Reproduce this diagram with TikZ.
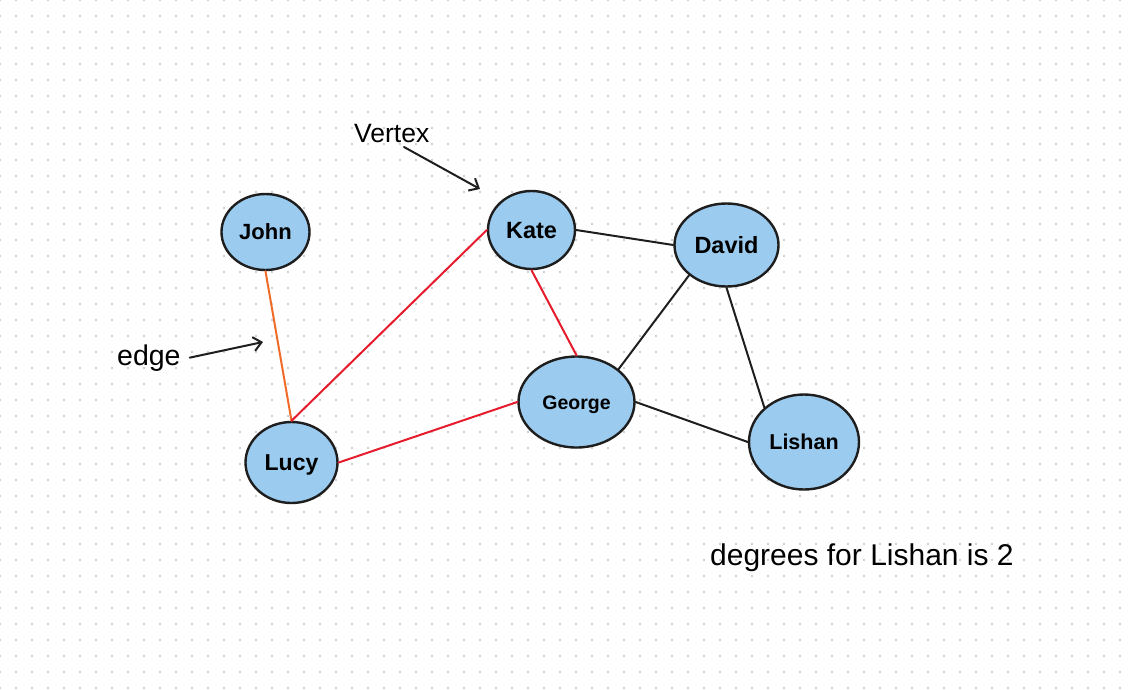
\documentclass[tikz,border=0pt]{standalone}
\usepackage{fontspec}
\setmainfont{Liberation Sans}
\usetikzlibrary{shapes.geometric, arrows.meta}

\begin{document}
\begin{tikzpicture}[x=1pt,y=-1pt,
  vertex/.style={ellipse, draw=vertexline, fill=vertexblue, line width=2.4pt,
    inner sep=0pt, text height=\dimexpr #1pt*72/100\relax, text depth=0pt,
    font=\bfseries\fontsize{#1}{#1}\selectfont},
  vertex/.default=22,
  link/.style={line width=2pt, line cap=round},
  pointer/.style={draw=vertexline, line width=2pt, line cap=round,
    -{Straight Barb[length=8pt,width=14pt,line width=2pt]}},
  note/.style={anchor=base west, inner sep=0pt, text=black}]
\definecolor{vertexblue}{RGB}{155,203,238}
\definecolor{vertexline}{RGB}{30,30,30}
\definecolor{edgered}{RGB}{230,28,44}
\definecolor{edgeorange}{RGB}{240,106,40}
\definecolor{dotgray}{RGB}{208,208,208}

\fill[white] (0,0) rectangle (1130,689);
\useasboundingbox (0,0) rectangle (1130,689);
\foreach \i in {0,...,70} {
  \foreach \j in {0,...,43} {
    \fill[dotgray] (16*\i-1,16*\j-1) rectangle (16*\i+1,16*\j+1);
  }
}

\node[vertex=22, minimum width=88, minimum height=76] (John) at (265.5,232) {John};
\node[vertex=23.5, minimum width=87, minimum height=78] (Kate) at (531.5,230) {Kate};
\node[vertex=23.5, minimum width=104, minimum height=83] (David) at (726.5,245) {David};
\node[vertex=19.5, minimum width=116, minimum height=91] (George) at (576.5,402) {George};
\node[vertex=21.5, minimum width=110, minimum height=95] (Lishan) at (804,442) {Lishan};
\node[vertex=23, minimum width=92, minimum height=81] (Lucy) at (291.5,462.5) {Lucy};

\draw[link, edgeorange] (John.south) -- (Lucy.north);
\draw[link, edgered] (Lucy.north) -- (Kate.west);
\draw[link, edgered] (Lucy.east) -- (George.west);
\draw[link, edgered] (Kate.south) -- (George.north);
\draw[link, vertexline] (Kate.east) -- (David.west);
\draw[link, vertexline] (David.219) -- (George.38);
\draw[link, vertexline] (David.south) -- (Lishan.139);
\draw[link, vertexline] (George.east) -- (Lishan.west);

\node[note, font=\fontsize{26.5}{26.5}\selectfont] (vertexlabel) at (354,142) {Vertex};
\node[note, font=\fontsize{28.5}{28.5}\selectfont] (edgelabel) at (117,365) {edge};
\node[note, font=\fontsize{30}{30}\selectfont] (degreelabel) at (710,565) {degrees for Lishan is 2};

\coordinate (vertexfrom) at (404,147);
\coordinate (vertexto) at (480,189);
\coordinate (edgeto) at (263,342);
\draw[pointer] (vertexfrom) -- (vertexto);
\draw[pointer] ([xshift=9pt]edgelabel.east) -- (edgeto);
\end{tikzpicture}
\end{document}
